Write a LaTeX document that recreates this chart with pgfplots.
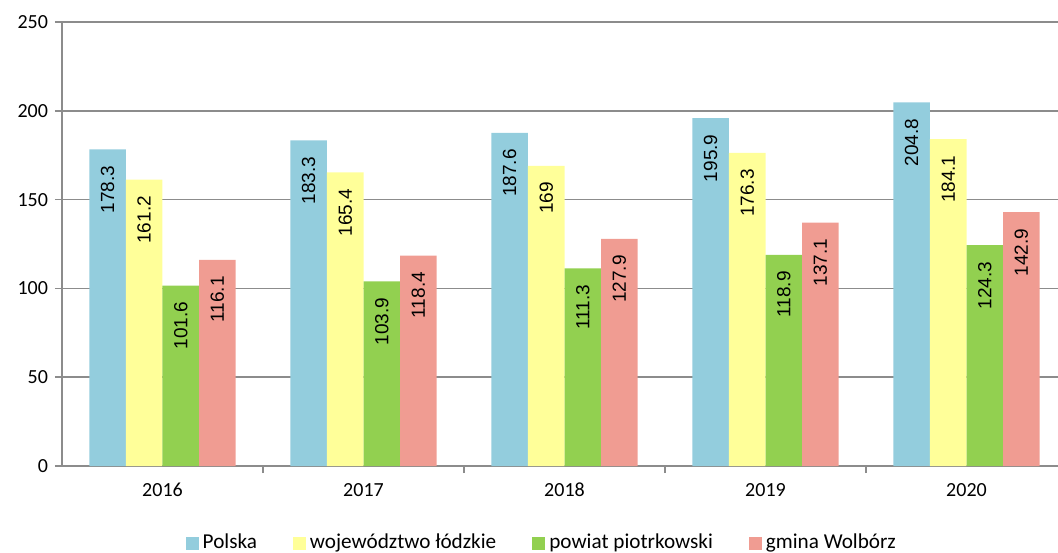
\documentclass[border=0pt]{standalone}
\usepackage{pgfplots}
\pgfplotsset{compat=1.18}
\usepackage{fontspec}
\setmainfont{Carlito}
\newfontfamily\arial{Liberation Sans}

\definecolor{cPolska}{HTML}{93CDDD}
\definecolor{cWoj}{HTML}{FFFF99}
\definecolor{cPowiat}{HTML}{92D050}
\definecolor{cGmina}{HTML}{F09C92}
\definecolor{gridgray}{HTML}{8C8C8C}

\begin{document}
\begin{tikzpicture}
\begin{axis}[
    scale only axis,
    width=502.5pt, height=222pt,
    xmin=-0.5, xmax=4.5,
    ymin=0, ymax=250,
    ybar=0pt,
    bar width=0.182,
    axis x line*=bottom,
    axis y line*=left,
    axis line style={draw=gridgray, line width=0.8pt},
    ytick={0,50,...,250},
    ymajorgrids,
    grid style={draw=gridgray, line width=0.8pt},
    xtick={0,1,2,3,4},
    xticklabels={2016,2017,2018,2019,2020},
    x tick style={draw=none},
    x tick label style={yshift=-1.5pt},
    extra x ticks={0.5,1.5,2.5,3.5},
    extra x tick labels={},
    extra x tick style={grid=none, x tick style={draw=gridgray, line width=0.8pt}},
    y tick style={draw=gridgray, line width=0.8pt},
    tick align=outside,
    major tick length=3.5pt,
    ticklabel style={font=\fontsize{10}{12}\selectfont},
    /pgf/number format/assume math mode=true,
    nodes near coords,
    nodes near coords style={rotate=90, anchor=east, font=\arial\fontsize{9.5}{11}\selectfont, text=black,
        inner xsep=8pt, inner ysep=2pt,
        /pgf/number format/fixed, /pgf/number format/precision=1},
    legend columns=4,
    legend style={at={(0.4784,-0.1735)}, anchor=center, draw=none, fill=none,
        font=\fontsize{10.6}{12}\selectfont,
        /tikz/every even column/.append style={column sep=16pt}},
    legend image code/.code={\fill[#1] (0pt,-3.25pt) rectangle (6.5pt,3.25pt);},
]
\addplot[fill=cPolska, draw=none] coordinates {(0,178.3) (1,183.3) (2,187.6) (3,195.9) (4,204.8)};
\addlegendentry{Polska}
\addplot[fill=cWoj, draw=none] coordinates {(0,161.2) (1,165.4) (2,169) (3,176.3) (4,184.1)};
\addlegendentry{województwo łódzkie}
\addplot[fill=cPowiat, draw=none] coordinates {(0,101.6) (1,103.9) (2,111.3) (3,118.9) (4,124.3)};
\addlegendentry{powiat piotrkowski}
\addplot[fill=cGmina, draw=none] coordinates {(0,116.1) (1,118.4) (2,127.9) (3,137.1) (4,142.9)};
\addlegendentry{gmina Wolbórz}
\end{axis}
\pgfresetboundingbox
\path[use as bounding box] (-31pt,-43pt) rectangle (498pt,233pt);
\end{tikzpicture}
\end{document}
